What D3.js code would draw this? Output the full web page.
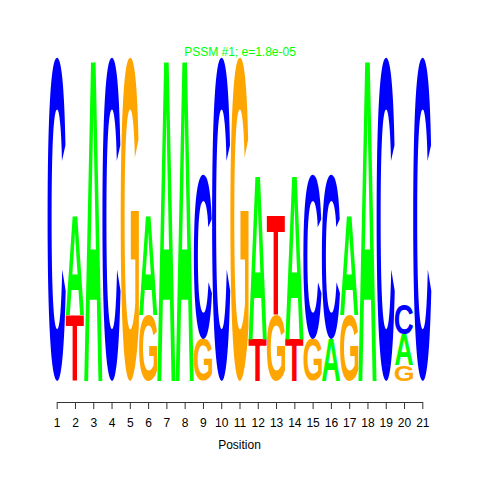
<!DOCTYPE html>
<html>
<head>
<meta charset="utf-8">
<script src="https://cdn.jsdelivr.net/npm/d3@7"></script>
<style>
  html, body { margin: 0; padding: 0; background: #fff; }
  svg { display: block; }
</style>
</head>
<body>
<div id="chart"></div>
<script>
// ---- data (heights in bits) ----
const positions = d3.range(1, 22);
const tickLabels = positions.map(String);
const bases = ["A", "C", "G", "T"];
const heightA = [0, 0.62, 2, 0, 0, 0.62, 2, 2, 0, 0, 0, 1.02, 0, 1.02, 0, 0.26, 0.62, 2, 0, 0.19, 0];
const heightC = [2, 0, 0, 2, 0, 0, 0, 0, 1.02, 2, 0, 0, 0, 0, 1.02, 1.02, 0, 0, 2, 0.19, 2];
const heightG = [0, 0, 0, 0, 2, 0.41, 0, 0, 0.26, 0, 2, 0, 0.41, 0, 0.26, 0, 0.41, 0, 0, 0.10, 0];
const heightT = [0, 0.41, 0, 0, 0, 0, 0, 0, 0, 0, 0, 0.26, 0.62, 0.26, 0, 0, 0, 0, 0, 0, 0];
const titleText = "PSSM #1; e=1.8e-05";
const xLabel = "Position";

const colors = { A: "#00FF00", C: "#0000FF", G: "#FFA500", T: "#FF0000" };
const heights = { A: heightA, C: heightC, G: heightG, T: heightT };

const W = 480, H = 480;
const svg = d3.select("#chart").append("svg").attr("width", W).attr("height", H);

const x = d3.scaleLinear().domain([1, 21]).range([56.7, 422.3]);
const y = d3.scaleLinear().domain([0, 2]).range([381, 57]);

// measure ink bounds of each glyph
const FS = 100;
const fontFamily = "'Liberation Sans', Arial, Helvetica, sans-serif";
const canvas = document.createElement("canvas");
const ctx = canvas.getContext("2d");
ctx.font = `bold ${FS}px ${fontFamily}`;
const ink = {};
bases.forEach(b => {
  const m = ctx.measureText(b);
  ink[b] = {
    L: m.actualBoundingBoxLeft, R: m.actualBoundingBoxRight,
    A: m.actualBoundingBoxAscent, D: m.actualBoundingBoxDescent
  };
});

// build stacked letters
const letters = [];
positions.forEach((p, i) => {
  const stack = bases.map((b, k) => ({ b, k, h: heights[b][i] }))
    .filter(d => d.h > 0)
    .sort((a, c) => a.h - c.h || a.k - c.k);
  let cum = 0;
  stack.forEach(d => {
    letters.push({ pos: p, base: d.b, y0: cum, y1: cum + d.h });
    cum += d.h;
  });
});

const g = svg.append("g");
g.selectAll("text.letter").data(letters).join("text")
  .attr("class", "letter")
  .attr("x", 0).attr("y", 0)
  .attr("font-family", fontFamily)
  .attr("font-weight", "bold")
  .attr("font-size", FS)
  .attr("fill", d => colors[d.base])
  .attr("transform", d => {
    const m = ink[d.base];
    const left = x(d.pos - 0.5), right = x(d.pos + 0.5);
    const top = y(d.y1), bottom = y(d.y0);
    const sx = (right - left) / (m.L + m.R);
    const sy = (bottom - top) / (m.A + m.D);
    return `translate(${left},${top}) scale(${sx},${sy}) translate(${m.L},${m.A})`;
  })
  .text(d => d.base);

// axis
const axis = d3.axisBottom(x).tickValues(positions).tickFormat((d, i) => tickLabels[i])
  .tickSize(7).tickSizeOuter(0);
const ax = svg.append("g").attr("transform", "translate(0,402)").call(axis);
ax.select(".domain").attr("stroke", "#333");
ax.selectAll(".tick line").attr("stroke", "#333");
ax.selectAll(".tick text")
  .attr("y", 25).attr("dy", 0)
  .attr("font-family", fontFamily).attr("font-size", 12).attr("fill", "#000");

svg.append("text")
  .attr("x", (x(1) + x(21)) / 2).attr("y", 449)
  .attr("text-anchor", "middle")
  .attr("font-family", fontFamily).attr("font-size", 12).attr("fill", "#000")
  .text(xLabel);

svg.append("text")
  .attr("x", 240).attr("y", 56)
  .attr("text-anchor", "middle")
  .attr("font-family", fontFamily).attr("font-size", 12).attr("fill", "#00FF00")
  .text(titleText);
</script>
</body>
</html>
